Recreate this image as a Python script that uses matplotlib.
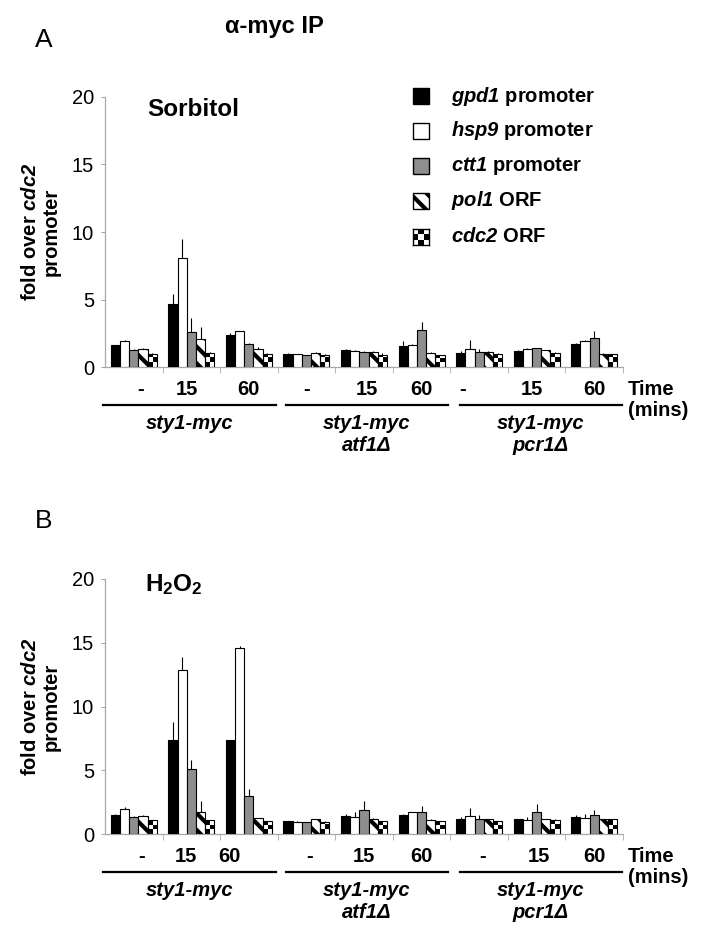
import math

import matplotlib
matplotlib.use("Agg")
import matplotlib.pyplot as plt
import numpy as np
from matplotlib.patches import Rectangle
from matplotlib.transforms import ScaledTranslation

plt.rcParams.update({
    "font.family": ["Liberation Sans", "DejaVu Sans"],
    "mathtext.fontset": "custom",
    "mathtext.rm": "Liberation Sans:italic:bold",
    "mathtext.it": "Liberation Sans:italic:bold",
    "mathtext.bf": "Liberation Sans:bold",
    "hatch.linewidth": 3.0,
})

W, H = 709, 938
FS = 14.5

genes = ["gpd1", "hsp9", "ctt1", "pol1", "cdc2"]
regions = ["promoter", "promoter", "promoter", "ORF", "ORF"]
time_labels = ["-", "15", "60", "-", "15", "60", "-", "15", "60"]
strain_labels = ["sty1-myc", "sty1-myc\natf1\u0394", "sty1-myc\npcr1\u0394"]

# panel A: sorbitol
sorb_gpd1 = [1.6, 4.7, 2.4, 0.96, 1.26, 1.58, 1.06, 1.2, 1.73]
sorb_hsp9 = [1.93, 8.05, 2.64, 0.93, 1.22, 1.63, 1.3, 1.33, 1.93]
sorb_ctt1 = [1.24, 2.6, 1.68, 0.87, 1.1, 2.74, 1.1, 1.38, 2.13]
sorb_pol1 = [1.3, 2.1, 1.3, 1.05, 1.08, 1.06, 1.1, 1.23, 1.0]
sorb_cdc2 = [1.0, 1.06, 1.0, 0.91, 0.91, 0.87, 0.96, 1.06, 0.93]
sorb_gpd1_err = [0.05, 0.7, 0.1, 0.05, 0.05, 0.35, 0.1, 0.05, 0.05]
sorb_hsp9_err = [0.1, 1.45, 0.05, 0.05, 0.05, 0.1, 0.67, 0.05, 0.05]
sorb_ctt1_err = [0.1, 1.05, 0.12, 0.05, 0.05, 0.6, 0.26, 0.05, 0.55]
sorb_pol1_err = [0.1, 0.85, 0.15, 0.05, 0.1, 0.05, 0.05, 0.05, 0.05]
sorb_cdc2_err = [0.05, 0.05, 0.05, 0.05, 0.1, 0.05, 0.05, 0.05, 0.05]

# panel B: H2O2
h2o2_gpd1 = [1.5, 7.37, 7.35, 1.0, 1.38, 1.5, 1.15, 1.15, 1.3]
h2o2_hsp9 = [2.0, 12.86, 14.56, 0.97, 1.36, 1.7, 1.4, 1.1, 1.25]
h2o2_ctt1 = [1.33, 5.07, 3.0, 0.92, 1.9, 1.73, 1.15, 1.75, 1.49]
h2o2_pol1 = [1.41, 1.75, 1.23, 1.15, 1.17, 1.1, 1.15, 1.15, 1.15]
h2o2_cdc2 = [1.07, 1.07, 1.0, 0.97, 1.0, 1.0, 1.0, 1.1, 1.15]
h2o2_gpd1_err = [0.05, 1.4, 0.05, 0.05, 0.2, 0.05, 0.15, 0.05, 0.2]
h2o2_hsp9_err = [0.1, 1.05, 0.2, 0.05, 0.4, 0.05, 0.67, 0.25, 0.32]
h2o2_ctt1_err = [0.08, 0.75, 0.55, 0.05, 0.7, 0.47, 0.35, 0.63, 0.4]
h2o2_pol1_err = [0.08, 0.85, 0.05, 0.05, 0.05, 0.05, 0.05, 0.05, 0.05]
h2o2_cdc2_err = [0.05, 0.05, 0.05, 0.05, 0.05, 0.05, 0.05, 0.05, 0.05]

FACE = ["black", "white", "#8e8e8e", "white", "none"]
HATCH = [None, None, None, "\\\\", None]
GREY = "#a8a8a8"


def fig_axes(fig, left, top, right, bottom):
    return fig.add_axes([left / W, 1 - bottom / H, (right - left) / W, (bottom - top) / H])


def below(ax, px):
    return ax.get_xaxis_transform() + ScaledTranslation(0, -px / 100, ax.figure.dpi_scale_trans)


def draw_panel(ax, values, errors, label_shift, height_px):
    n = len(time_labels)
    x = np.arange(1, n + 1)
    width = 0.16
    cell = 4.6 / (height_px / 20)
    for k, (vals, errs) in enumerate(zip(values, errors)):
        pos = x + (k - 2) * width
        ax.errorbar(pos, vals, yerr=[np.zeros(n), errs], fmt="none", ecolor="black",
                    elinewidth=0.8, capsize=0, zorder=1)
        bars = ax.bar(pos, vals, width, color=FACE[k], edgecolor="black", linewidth=0.8,
                      hatch=HATCH[k], zorder=3)
        if k == 4:
            for rect in bars:
                x0, w, h = rect.get_x(), rect.get_width(), rect.get_height()
                rows = max(1, math.ceil(h / cell))
                grid = np.add.outer(np.arange(rows), np.arange(2)) % 2
                im = ax.imshow(grid, cmap="gray", vmin=0, vmax=1, origin="lower",
                               extent=(x0, x0 + w, 0, rows * cell), interpolation="nearest",
                               aspect="auto", zorder=2)
                im.set_clip_path(rect)

    ax.set_xlim(0.5, 9.5)
    ax.set_ylim(0, 20)
    ax.set_yticks([0, 5, 10, 15, 20])
    ax.tick_params(axis="y", labelsize=FS, length=3, color=GREY, pad=5)
    ax.set_xticks(x + np.array(label_shift), time_labels, fontsize=FS, fontweight="bold")
    ax.tick_params(axis="x", length=0, pad=9)
    ax.set_xticks(np.arange(1.5, 10), minor=True)
    ax.tick_params(axis="x", which="minor", length=4, color=GREY)
    for side in ("top", "right"):
        ax.spines[side].set_visible(False)
    for side in ("left", "bottom"):
        ax.spines[side].set_color(GREY)
        ax.spines[side].set_linewidth(0.9)

    ax.set_ylabel("fold over $cdc2$\npromoter", fontsize=FS, fontweight="bold",
                  labelpad=8, linespacing=1.1)

    spans = [(0.47, 3.47), (3.64, 6.46), (6.67, 9.48)]
    for (a, b), name in zip(spans, strain_labels):
        ax.plot([a, b], [0, 0], color="black", lw=1.6, clip_on=False, transform=below(ax, 38))
        ax.text((a + b) / 2, 0, name, ha="center", va="top", fontsize=FS, fontweight="bold",
                fontstyle="italic", linespacing=1.2, transform=below(ax, 47))
    ax.text(9.59, 0, "Time\n(mins)", ha="left", va="top", fontsize=FS, fontweight="bold",
            linespacing=1.15, transform=below(ax, 13))


fig = plt.figure(figsize=(W / 100, H / 100), dpi=100)

ax_a = fig_axes(fig, 105, 97, 623, 367)
draw_panel(ax_a,
           [sorb_gpd1, sorb_hsp9, sorb_ctt1, sorb_pol1, sorb_cdc2],
           [sorb_gpd1_err, sorb_hsp9_err, sorb_ctt1_err, sorb_pol1_err, sorb_cdc2_err],
           [0.12, -0.07, 0, 0, 0.05, 0, -0.28, -0.09, 0], 270)

ax_b = fig_axes(fig, 105, 579, 623, 834)
draw_panel(ax_b,
           [h2o2_gpd1, h2o2_hsp9, h2o2_ctt1, h2o2_pol1, h2o2_cdc2],
           [h2o2_gpd1_err, h2o2_hsp9_err, h2o2_ctt1_err, h2o2_pol1_err, h2o2_cdc2_err],
           [0.13, -0.1, -0.33, 0.05, 0, 0, 0.06, 0.04, 0], 255)

fig.text(274 / W, 1 - 27 / H, "\u03b1-myc IP", ha="center", va="center", fontsize=17,
         fontweight="bold")
fig.text(35 / W, 1 - 40 / H, "A", ha="left", va="center", fontsize=19)
fig.text(35 / W, 1 - 521 / H, "B", ha="left", va="center", fontsize=19)
fig.text(147 / W, 1 - 110 / H, "Sorbitol", ha="left", va="center", fontsize=17.5,
         fontweight="bold")
fig.text(145 / W, 1 - 585 / H, "$\\mathbf{H_2O_2}$", ha="left", va="center", fontsize=17.5)

# legend
row_y = [96, 131, 166, 201, 237]
for k, (gene, region) in enumerate(zip(genes, regions)):
    yc = row_y[k]
    if k == 4:
        lax = fig_axes(fig, 413, yc - 8, 429, yc + 8)
        lax.imshow(np.add.outer(np.arange(3), np.arange(3)) % 2, cmap="gray_r", vmin=0,
                   vmax=1, interpolation="nearest", aspect="auto")
        lax.set_xticks([])
        lax.set_yticks([])
        for sp in lax.spines.values():
            sp.set_linewidth(1.0)
    else:
        fig.add_artist(Rectangle((413 / W, 1 - (yc + 8) / H), 16 / W, 16 / H,
                                 facecolor=FACE[k], edgecolor="black", linewidth=1.0,
                                 hatch=HATCH[k], transform=fig.transFigure))
    fig.text(451 / W, 1 - yc / H, f"${gene}$ {region}", ha="left",
             va="center", fontsize=FS, fontweight="bold")

fig.savefig("out.png", dpi=100)
